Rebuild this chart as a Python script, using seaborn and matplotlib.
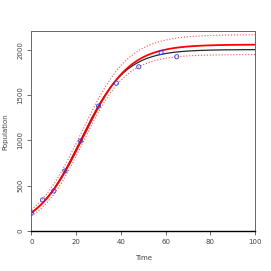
import numpy as np
import pandas as pd
import seaborn as sns
import matplotlib
matplotlib.use('Agg')
import matplotlib.pyplot as plt

# observed population counts
time_obs = [0, 5, 10, 15, 22, 30, 38, 48, 58, 65]
pop_obs = [198, 342, 440, 661, 992, 1377, 1630, 1810, 1968, 1921]

# logistic curves: (K, N0, r)
true_model = (2000, 200, 0.100)
fit_model = (2055, 200, 0.097)
upper_band = (2165, 235, 0.0944)
lower_band = (1945, 165, 0.1036)

x_ticks = [0, 20, 40, 60, 80, 100]
y_ticks = [0, 500, 1000, 1500, 2000]


def logistic(t, params):
    K, N0, r = params
    return K / (1 + (K - N0) / N0 * np.exp(-r * t))


t = np.linspace(0, 100, 400)
curves = pd.DataFrame({
    'Time': np.tile(t, 4),
    'Population': np.concatenate([logistic(t, p) for p in
                                  [true_model, fit_model, upper_band, lower_band]]),
    'curve': np.repeat(['true', 'fit', 'upper', 'lower'], len(t)),
})

sns.set_style('ticks')
fig = plt.figure(figsize=(2.71, 2.71), dpi=100)
ax = fig.add_axes([0.116, 0.148, 0.825, 0.736])

txt = '#444444'
for name, col, lw, ls, a in [('upper', 'red', 0.8, ':', 0.7), ('lower', 'red', 0.8, ':', 0.7),
                             ('true', 'black', 0.9, '-', 0.85), ('fit', 'red', 1.3, '-', 1.0)]:
    sns.lineplot(data=curves[curves.curve == name], x='Time', y='Population',
                 color=col, lw=lw, ls=ls, alpha=a, ax=ax)

sns.scatterplot(x=time_obs, y=pop_obs, ax=ax, marker='o', s=9,
                facecolors='none', edgecolor='#3333ff', linewidth=0.6, zorder=5)

ax.set_xlim(0, 100)
ax.set_ylim(0, 2200)
ax.set_xticks(x_ticks)
ax.set_yticks(y_ticks)
ax.set_xticklabels([str(v) for v in x_ticks], fontsize=5, color=txt)
ax.set_yticklabels([str(v) for v in y_ticks], fontsize=5, color=txt,
                   rotation=90, va='center')
ax.tick_params(length=3, width=0.6, color='#555555', pad=3)
ax.set_xlabel('Time', fontsize=5, color=txt, labelpad=7)
ax.set_ylabel('Population', fontsize=5, color=txt, labelpad=6)
for side in ['top', 'right', 'left']:
    ax.spines[side].set_color('#666666')
    ax.spines[side].set_linewidth(0.7)
ax.spines['bottom'].set_color('black')
ax.spines['bottom'].set_linewidth(1.0)

fig.savefig('out.png', dpi=100)
